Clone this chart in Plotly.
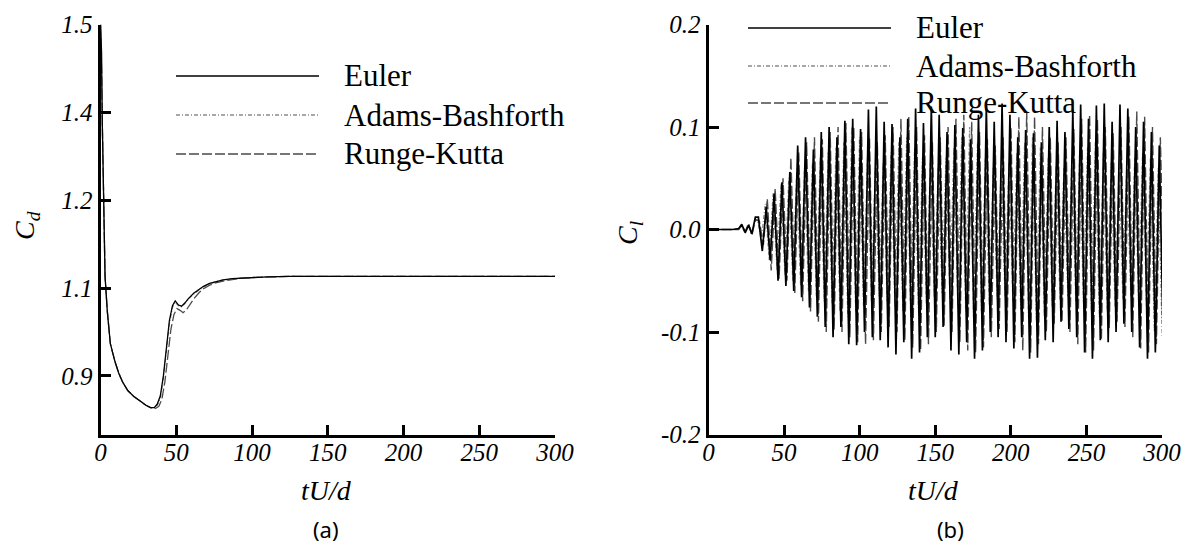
import plotly.graph_objects as go

# ---------------- data: drag coefficient (a) ----------------
cd_t_euler = [0, 0.6, 1.2, 2, 3, 4.5, 6.5, 9.5, 12, 14.5, 18, 22, 26, 30, 33, 35.5, 37.5, 39.5,
              41.5, 43.5, 45.5, 47.5, 49.3, 51.5, 53.5, 55.5, 58, 61.5, 65, 68, 72, 76, 81, 87,
              93, 99, 110, 125, 150, 200, 250, 300]
cd_euler = [1.50, 1.46, 1.33, 1.22, 1.07, 1.01, 0.955, 0.925, 0.905, 0.89, 0.875, 0.865, 0.857,
            0.85, 0.846, 0.846, 0.852, 0.866, 0.90, 0.95, 0.995, 1.02, 1.028, 1.021, 1.019, 1.024,
            1.032, 1.041, 1.048, 1.053, 1.058, 1.061, 1.064, 1.066, 1.067, 1.068, 1.069, 1.070,
            1.070, 1.070, 1.070, 1.070]
cd_t_ab = cd_t_euler
cd_ab = [1.50, 1.46, 1.33, 1.22, 1.07, 1.01, 0.955, 0.925, 0.905, 0.89, 0.875, 0.865, 0.857,
         0.85, 0.846, 0.845, 0.850, 0.862, 0.895, 0.945, 0.99, 1.017, 1.026, 1.020, 1.018, 1.023,
         1.031, 1.040, 1.047, 1.052, 1.057, 1.061, 1.064, 1.066, 1.067, 1.068, 1.069, 1.070,
         1.070, 1.070, 1.070, 1.070]
cd_t_rk = [0, 0.6, 1.2, 2, 3, 4.5, 6.5, 9.5, 12, 14.5, 18, 22, 26, 30, 33, 36, 38.5, 40.5, 42.5,
           44.5, 46.5, 48.5, 50.5, 52.5, 54.5, 56.5, 59, 62, 65, 68, 72, 76, 81, 87, 93, 99, 110,
           125, 150, 200, 250, 300]
cd_rk = [1.50, 1.46, 1.33, 1.22, 1.07, 1.01, 0.955, 0.925, 0.905, 0.89, 0.875, 0.865, 0.857,
         0.85, 0.846, 0.844, 0.848, 0.86, 0.89, 0.935, 0.98, 1.005, 1.015, 1.012, 1.008, 1.012,
         1.022, 1.033, 1.042, 1.049, 1.055, 1.059, 1.062, 1.065, 1.067, 1.068, 1.069, 1.070,
         1.070, 1.070, 1.070, 1.070]

# ---------------- data: lift coefficient (b) ----------------
# start-up (before periodic shedding)
cl_pre_t = [0, 16, 20, 22, 24.3, 26.5, 28.7, 31]
cl_pre_euler = [0, 0, 0.001, 0.005, -0.003, 0.004, -0.004, 0.012]
cl_pre_rk = [0, 0, 0.0, 0.004, -0.002, 0.006, -0.006, 0.01]
cl_pre_ab = [0, 0, 0.001, 0.003, -0.004, 0.005, -0.003, 0.008]

# times of successive lift maxima (Euler); RK / AB are slightly phase-shifted
cl_peak_t = [33.0, 38.2, 43.4, 48.6, 53.8, 59.0, 64.2, 69.4, 74.6, 79.8, 85.0, 90.2, 95.4,
             100.6, 105.8, 111.0, 116.2, 121.4, 126.6, 131.8, 137.0, 142.2, 147.4, 152.6,
             157.8, 163.0, 168.2, 173.4, 178.6, 183.8, 189.0, 194.2, 199.4, 204.6, 209.8,
             215.0, 220.2, 225.4, 230.6, 235.8, 241.0, 246.2, 251.4, 256.6, 261.8, 267.0,
             272.2, 277.4, 282.6, 287.8, 293.0, 298.2]
phase_rk = 0.7
phase_ab = -0.7

cl_max_euler = [0.012, 0.022, 0.035, 0.046, 0.056, 0.082, 0.09, 0.078, 0.095, 0.1, 0.09, 0.106,
                0.108, 0.098, 0.117, 0.12, 0.105, 0.103, 0.09, 0.108, 0.118, 0.104, 0.12, 0.112,
                0.095, 0.102, 0.099, 0.088, 0.112, 0.12, 0.105, 0.123, 0.112, 0.09, 0.097, 0.094,
                0.085, 0.1, 0.106, 0.095, 0.117, 0.122, 0.108, 0.121, 0.123, 0.105, 0.122, 0.118,
                0.1, 0.105, 0.095, 0.082]
cl_min_euler = [-0.021, -0.03, -0.05, -0.055, -0.06, -0.066, -0.076, -0.085, -0.095, -0.105,
                -0.095, -0.112, -0.113, -0.1, -0.105, -0.108, -0.115, -0.122, -0.11, -0.126,
                -0.12, -0.105, -0.105, -0.095, -0.118, -0.122, -0.11, -0.126, -0.118, -0.1,
                -0.105, -0.11, -0.116, -0.105, -0.126, -0.125, -0.108, -0.11, -0.09, -0.097,
                -0.105, -0.12, -0.126, -0.108, -0.11, -0.1, -0.092, -0.1, -0.115, -0.126, -0.12,
                -0.11]
cl_max_rk = [0.008, 0.03, 0.04, 0.05, 0.07, 0.075, 0.085, 0.09, 0.088, 0.095, 0.1, 0.104, 0.1,
             0.095, 0.09, 0.085, 0.092, 0.1, 0.108, 0.11, 0.1, 0.092, 0.085, 0.09, 0.1, 0.108,
             0.112, 0.105, 0.095, 0.088, 0.082, 0.09, 0.1, 0.11, 0.115, 0.11, 0.1, 0.09, 0.085,
             0.09, 0.098, 0.108, 0.112, 0.108, 0.1, 0.094, 0.1, 0.11, 0.115, 0.11, 0.1, 0.09]
cl_min_rk = [-0.015, -0.04, -0.048, -0.05, -0.062, -0.07, -0.08, -0.09, -0.1, -0.098, -0.1,
             -0.105, -0.11, -0.112, -0.108, -0.1, -0.095, -0.1, -0.108, -0.115, -0.118, -0.112,
             -0.1, -0.094, -0.1, -0.11, -0.118, -0.12, -0.115, -0.105, -0.097, -0.1, -0.11,
             -0.118, -0.12, -0.112, -0.1, -0.092, -0.09, -0.1, -0.112, -0.12, -0.118, -0.108,
             -0.096, -0.09, -0.095, -0.105, -0.116, -0.12, -0.112, -0.07]
cl_max_ab = [0.01, 0.025, 0.035, 0.045, 0.05, 0.055, 0.06, 0.065, 0.07, 0.075, 0.08, 0.085, 0.1,
             0.09, 0.07, 0.06, 0.065, 0.075, 0.085, 0.09, 0.08, 0.07, 0.065, 0.06, 0.07, 0.08,
             0.09, 0.1, 0.085, 0.07, 0.06, 0.058, 0.065, 0.075, 0.085, 0.09, 0.08, 0.07, 0.062,
             0.06, 0.068, 0.075, 0.08, 0.085, 0.075, 0.065, 0.06, 0.065, 0.07, 0.075, 0.07, 0.06]
cl_min_ab = [-0.01, -0.03, -0.04, -0.045, -0.05, -0.055, -0.06, -0.065, -0.07, -0.072, -0.08,
             -0.085, -0.08, -0.075, -0.07, -0.065, -0.07, -0.075, -0.08, -0.085, -0.08, -0.072,
             -0.066, -0.062, -0.068, -0.075, -0.08, -0.085, -0.08, -0.074, -0.068, -0.065, -0.07,
             -0.078, -0.085, -0.09, -0.085, -0.075, -0.068, -0.065, -0.07, -0.075, -0.08, -0.085,
             -0.08, -0.075, -0.068, -0.065, -0.07, -0.075, -0.1, -0.105]

series_names = ["Euler", "Adams-Bashforth", "Runge-Kutta"]
cd_yticks = [0.9, 1.05, 1.2, 1.35, 1.5]
cd_yticktext = ["0.9", "1.1", "1.2", "1.4", "1.5"]
cl_yticks = [-0.2, -0.1, 0.0, 0.1, 0.2]
cl_yticktext = ["-0.2", "-0.1", "0.0", "0.1", "0.2"]
x_ticks = [0, 50, 100, 150, 200, 250, 300]


def lift_path(pre_t, pre_v, peak_t, phase, vmax, vmin):
    t = list(pre_t)
    v = list(pre_v)
    n = len(peak_t)
    for k in range(n):
        half = ((peak_t[k + 1] - peak_t[k]) if k + 1 < n else (peak_t[k] - peak_t[k - 1])) / 2
        t.append(peak_t[k] + phase)
        v.append(vmax[k])
        t.append(peak_t[k] + phase + half)
        v.append(vmin[k])
    return t, v


# ---------------- styles ----------------
W, H = 1188, 543
styles = {
    "Euler": dict(color="#000000", width=1.7, dash="solid"),
    "Adams-Bashforth": dict(color="#8a8a8a", width=1.2, dash="4px,2px,1px,2px"),
    "Runge-Kutta": dict(color="#4a4a4a", width=1.4, dash="10px,3px"),
}
SERIF = "Liberation Serif, Times New Roman, Tinos, DejaVu Serif, serif"


def px(x):
    return x / W


def py(y):
    return 1 - y / H


fig = go.Figure()

# (a) drag
for name, tt, vv in [("Runge-Kutta", cd_t_rk, cd_rk), ("Adams-Bashforth", cd_t_ab, cd_ab),
                     ("Euler", cd_t_euler, cd_euler)]:
    st = dict(styles[name])
    st["width"] = 1.3
    fig.add_trace(go.Scatter(x=tt, y=vv, mode="lines", line=st, name=name,
                             showlegend=False, xaxis="x", yaxis="y"))

# (b) lift
lift_sets = {
    "Adams-Bashforth": (cl_pre_ab, phase_ab, cl_max_ab, cl_min_ab),
    "Runge-Kutta": (cl_pre_rk, phase_rk, cl_max_rk, cl_min_rk),
    "Euler": (cl_pre_euler, 0.0, cl_max_euler, cl_min_euler),
}
for name in ["Adams-Bashforth", "Runge-Kutta", "Euler"]:
    pre, ph, mx, mn = lift_sets[name]
    tt, vv = lift_path(cl_pre_t, pre, cl_peak_t, ph, mx, mn)
    fig.add_trace(go.Scatter(x=tt, y=vv, mode="lines", line=styles[name], name=name,
                             showlegend=False, xaxis="x2", yaxis="y2"))

tickfont = dict(family=SERIF, size=25, color="black", style="italic")
axis_common = dict(showline=True, linecolor="black", linewidth=3, ticks="inside",
                   ticklen=10, tickwidth=3, tickcolor="black", showgrid=False,
                   zeroline=False, mirror=False, tickfont=tickfont, automargin=False)

ydom = [py(434.5), py(24.5)]
fig.update_layout(
    width=W, height=H, margin=dict(l=0, r=0, t=0, b=0, pad=0, autoexpand=False),
    paper_bgcolor="white", plot_bgcolor="white", showlegend=False,
    xaxis=dict(domain=[px(100.5), px(555)], range=[0, 300], tickvals=x_ticks,
               ticktext=[str(v) for v in x_ticks], anchor="y", ticklabelstandoff=-7,
               **axis_common),
    yaxis=dict(domain=ydom, range=[0.8, 1.5], tickvals=cd_yticks, ticktext=cd_yticktext,
               anchor="x", **axis_common),
    xaxis2=dict(domain=[px(708.5), px(1162)], range=[0, 300], tickvals=x_ticks,
                ticktext=[str(v) for v in x_ticks], anchor="y2", ticklabelstandoff=-7,
                **axis_common),
    yaxis2=dict(domain=ydom, range=[-0.2, 0.2], tickvals=cl_yticks, ticktext=cl_yticktext,
                anchor="x2", **axis_common),
)

ann = []
shapes = []
# axis titles
for (x, y, txt, ang) in [(26, 226, "<i>C<sub>d</sub></i>", -90), (629, 232, "<i>C<sub>l</sub></i>", -90),
                         (326, 490, "<i>tU/d</i>", 0), (933, 490, "<i>tU/d</i>", 0)]:
    ann.append(dict(x=px(x), y=py(y), xref="paper", yref="paper", text=txt, showarrow=False,
                    textangle=ang, xanchor="center", yanchor="middle",
                    font=dict(family=SERIF, size=28, color="black")))
# panel labels
for (x, y, txt) in [(326, 529, "(a)"), (950, 529, "(b)")]:
    ann.append(dict(x=px(x), y=py(y), xref="paper", yref="paper", text=txt, showarrow=False,
                    xanchor="center", yanchor="middle",
                    font=dict(family="Noto Sans", size=22, color="black")))
# legends (line samples + labels)
for (x0, x1, xt, rows) in [(176, 319, 342, [76, 115, 154]), (748, 891, 914, [28, 66, 103])]:
    for name, yy in zip(series_names, rows):
        st = styles[name]
        shapes.append(dict(type="line", xref="paper", yref="paper", x0=px(x0), x1=px(x1),
                           y0=py(yy), y1=py(yy),
                           line=dict(color=st["color"], width=max(st["width"], 1.5), dash=st["dash"])))
        ann.append(dict(x=px(xt), y=py(yy), xref="paper", yref="paper", text=name,
                        showarrow=False, xanchor="left", yanchor="middle",
                        font=dict(family=SERIF, size=31, color="black")))

fig.update_layout(annotations=ann, shapes=shapes)
fig.write_html("out.html", config={"displayModeBar": False},
               post_script="document.body.style.margin='0';document.body.style.overflow='hidden';")
